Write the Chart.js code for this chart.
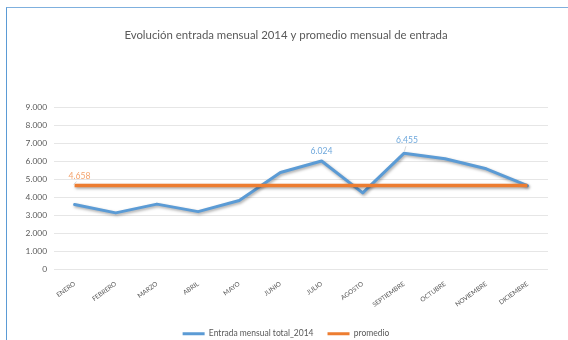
<!DOCTYPE html>
<html><head><meta charset="utf-8">
<script src="https://cdn.jsdelivr.net/npm/chart.js@4"></script>
<style>
html,body{margin:0;padding:0;background:#fff;overflow:hidden;width:568px;height:340px;}
#wrap{position:relative;width:568px;height:340px;overflow:hidden;background:#fff;}
#frame{position:absolute;left:6px;top:7px;right:0;bottom:0;border-left:1.5px solid #5B9BD5;border-top:1px solid #7FB0DE;pointer-events:none;}
canvas{position:absolute;left:0;top:0;}
</style></head><body>
<div id="wrap"><canvas id="c" width="568" height="351"></canvas><div id="frame"></div></div>
<script>
const months = ['ENERO','FEBRERO','MARZO','ABRIL','MAYO','JUNIO','JULIO','AGOSTO','SEPTIEMBRE','OCTUBRE','NOVIEMBRE','DICIEMBRE'];
const entrada = [3600, 3130, 3620, 3200, 3820, 5380, 6024, 4250, 6455, 6150, 5590, 4650];
const promedio = [4658, 4658, 4658, 4658, 4658, 4658, 4658, 4658, 4658, 4658, 4658, 4658];
const seriesNames = ['Entrada mensual total_2014', 'promedio'];
const titleText = 'Evolución entrada mensual 2014 y promedio mensual de entrada';

const FONT = 'Lato';
const fmt = v => String(Math.round(v)).replace(/\B(?=(\d{3})+(?!\d))/g, '.');

const labeled = [
  {ds: 0, i: 6, color: '#6FA8DC', dx: 0, dy: -10, leader: null},
  {ds: 0, i: 8, color: '#6FA8DC', dx: 3, dy: -13.5, leader: [0.5, -2, 2, -7]},
  {ds: 1, i: 0, color: '#F4A46E', dx: 5, dy: -9, leader: [-1, -1, 2, -4]}
];

const shadowPlugin = {
  id: 'shadow',
  beforeDatasetDraw(chart) {
    const ctx = chart.ctx;
    ctx.save();
    ctx.shadowColor = 'rgba(0,0,0,0.35)';
    ctx.shadowBlur = 3;
    ctx.shadowOffsetX = 1;
    ctx.shadowOffsetY = 1.5;
  },
  afterDatasetDraw(chart) { chart.ctx.restore(); }
};

const labelPlugin = {
  id: 'pointLabels',
  afterDatasetsDraw(chart) {
    const ctx = chart.ctx;
    labeled.forEach(l => {
      const pt = chart.getDatasetMeta(l.ds).data[l.i];
      const v = chart.data.datasets[l.ds].data[l.i];
      ctx.save();
      if (l.leader) {
        ctx.strokeStyle = '#c8c8c8';
        ctx.lineWidth = 0.7;
        ctx.beginPath();
        ctx.moveTo(pt.x + l.leader[0], pt.y + l.leader[1]);
        ctx.lineTo(pt.x + l.leader[2], pt.y + l.leader[3]);
        ctx.stroke();
      }
      ctx.font = '8.6px ' + FONT;
      ctx.fillStyle = l.color;
      ctx.textAlign = 'center';
      ctx.textBaseline = 'middle';
      ctx.fillText(fmt(v), pt.x + l.dx, pt.y + l.dy);
      ctx.restore();
    });
  }
};

new Chart(document.getElementById('c'), {
  type: 'line',
  data: {
    labels: months,
    datasets: [
      {label: seriesNames[0], data: entrada, borderColor: '#5B9BD5', backgroundColor: '#5B9BD5', borderWidth: 3, pointRadius: 0, tension: 0, order: 1, borderJoinStyle: 'round', borderCapStyle: 'round'},
      {label: seriesNames[1], data: promedio, borderColor: '#ED7D31', backgroundColor: '#ED7D31', borderWidth: 3.5, pointRadius: 0, tension: 0, order: 0}
    ]
  },
  options: {
    responsive: false,
    animation: false,
    layout: {padding: {left: 24, right: 20, top: 0, bottom: 3}},
    plugins: {
      tooltip: {enabled: false},
      title: {
        display: true, text: titleText, color: '#595959',
        font: {family: FONT, size: 11.4, weight: 'normal', lineHeight: 1.2},
        padding: {top: 28, bottom: 66}
      },
      legend: {
        position: 'bottom',
        labels: {
          boxWidth: 22, boxHeight: 3, padding: 14, color: '#595959',
          font: {family: FONT, size: 8.5},
          generateLabels: (chart) => chart.data.datasets.map((ds, i) => ({
            text: ds.label, fillStyle: ds.borderColor, strokeStyle: ds.borderColor,
            lineWidth: 0, hidden: false, datasetIndex: i, fontColor: '#595959'
          }))
        }
      }
    },
    scales: {
      x: {
        offset: true,
        grid: {display: false},
        border: {display: false},
        ticks: {color: '#595959', font: {family: FONT, size: 6.4}, minRotation: 36, maxRotation: 36, padding: 3, autoSkip: false},
        afterFit(scale) { scale.height = 46.5; }
      },
      y: {
        min: 0, max: 9000,
        grid: {color: '#e6e6e6', lineWidth: 1, drawTicks: false},
        border: {display: false},
        ticks: {stepSize: 1000, padding: 7, color: '#595959', font: {family: FONT, size: 8.4}, callback: v => fmt(v)},
        afterFit(scale) { scale.width = 30; }
      }
    }
  },
  plugins: [shadowPlugin, labelPlugin]
});
</script>
</body></html>
